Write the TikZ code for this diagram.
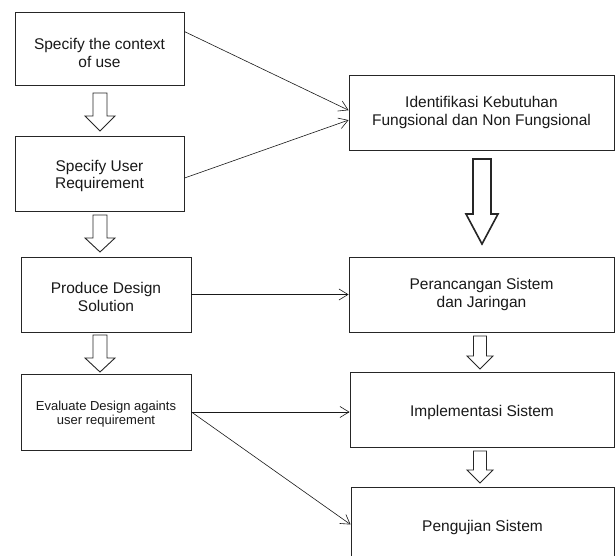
\documentclass[tikz,border=0pt]{standalone}
\usepackage{fontspec}
\setmainfont{Liberation Sans}
\usetikzlibrary{arrows.meta,calc}
% #2 centre x, #3 top y, #4 shaft half width, #5 head start y, #6 head half width, #7 tip y
\newcommand\blockdown[7][0.9pt]{%
  \draw[line width=#1,draw=black!85,fill=white,line join=miter]
    ({#2-#4},#3) -- ({#2+#4},#3) -- ({#2+#4},#5) -- ({#2+#6},#5) -- (#2,#7)
    -- ({#2-#6},#5) -- ({#2-#4},#5) -- cycle;}
\newcommand\lowerby[1]{\rule{0pt}{#1}}
\tikzset{
  stepbox/.style={draw=black!85,line width=0.9pt,fill=white,align=center,
    inner sep=2pt,font=\fontsize{15.5}{17.5}\selectfont,text=black!90},
  smalltext/.style={font=\fontsize{13}{14.5}\selectfont},
  link/.style={draw=black!90,line width=0.6pt,-{Straight Barb[length=9pt,width=11pt,line width=0.6pt]}}
}
\begin{document}
\begin{tikzpicture}[x=1pt,y=-1pt]
\useasboundingbox (0,0) rectangle (616,556);
\clip (0,0) rectangle (616,556);
% left column
\node[stepbox,minimum width=169pt,minimum height=73pt] (b1) at (99.5,49.3) {\lowerby{18.5pt}Specify the context\\of use};
\node[stepbox,minimum width=169pt,minimum height=75pt] (b2) at (99.5,173.5) {\lowerby{16.5pt}Specify User\\Requirement};
\node[stepbox,minimum width=170pt,minimum height=75pt] (b3) at (106,294.5) {\lowerby{16.5pt}Produce Design\\Solution};
\node[stepbox,smalltext,minimum width=170pt,minimum height=76pt] (b4) at (106,412) {\lowerby{13.5pt}Evaluate Design againts\\user requirement};
% right column
\node[stepbox,minimum width=265pt,minimum height=75pt] (r1) at (481.5,112.5) {Identifikasi Kebutuhan\\Fungsional dan Non Fungsional};
\node[stepbox,minimum width=265pt,minimum height=75pt] (r2) at (481.5,294.5) {Perancangan Sistem\\dan Jaringan};
\node[stepbox,minimum width=264pt,minimum height=75pt] (r3) at (482,409.5) {\lowerby{16.5pt}Implementasi Sistem};
\node[stepbox,minimum width=263pt,minimum height=75pt] (r4) at (482.5,524.5) {\lowerby{16.5pt}Pengujian Sistem};
% hollow block arrows
\blockdown{100}{93}{7}{116}{15}{131}
\blockdown{100}{215}{7}{238}{15}{252}
\blockdown{100}{335}{7}{358}{15}{372}
\blockdown[1.6pt]{482}{159}{9}{214}{16}{244}
\blockdown{480}{336}{6.5}{356}{13}{369}
\blockdown{480}{451}{6.5}{470}{13}{483}
% connectors
\coordinate (b1o) at ($(b1.north east)!0.26!(b1.south east)$);
\coordinate (b2o) at ($(b2.north east)!0.56!(b2.south east)$);
\coordinate (r1a) at ($(r1.north west)!0.47!(r1.south west)$);
\coordinate (r1b) at ($(r1.north west)!0.60!(r1.south west)$);
\draw[link] (b1o) -- (r1a);
\draw[link] (b2o) -- (r1b);
\draw[link] (b3.east) -- (b3.east -| r2.west);
\draw[link] (b4.east) -- (b4.east -| r3.west);
\draw[link] (b4.east) -- (r4.west);
\end{tikzpicture}
\end{document}
